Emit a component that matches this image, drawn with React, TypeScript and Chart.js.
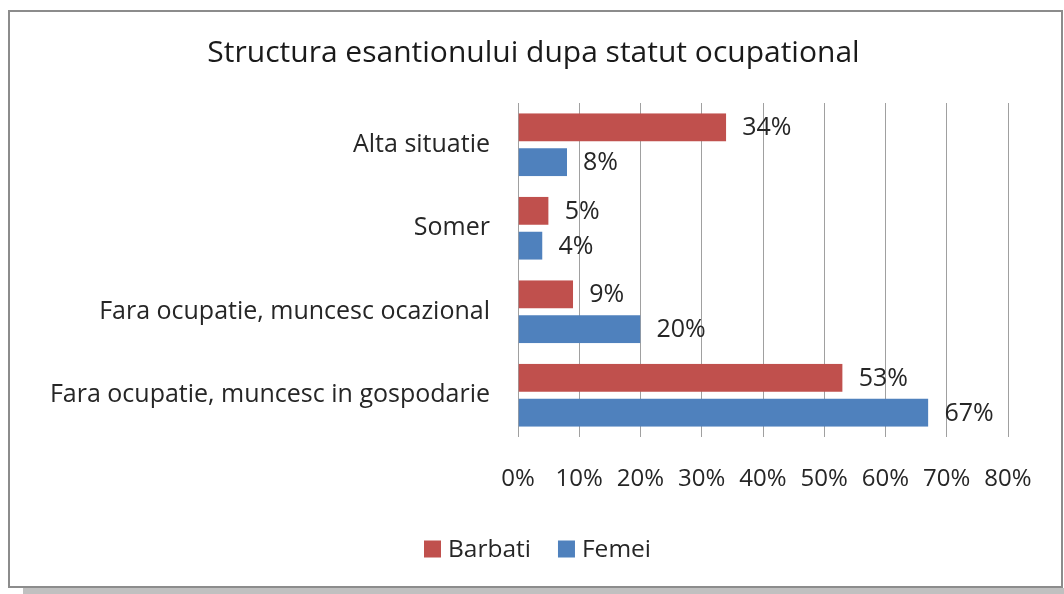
import React, { useEffect, useRef } from "react";
import { Chart, registerables } from "chart.js";

Chart.register(...registerables);

const categories = [
  "Alta situatie",
  "Somer",
  "Fara ocupatie, muncesc ocazional",
  "Fara ocupatie, muncesc in gospodarie",
];
const barbati = [34, 5, 9, 53];
const femei = [8, 4, 20, 67];
const seriesNames = ["Barbati", "Femei"];
const seriesColors = ["#C0504D", "#4F81BD"];
const xTicksMax = 80;
const chartTitle = "Structura esantionului dupa statut ocupational";

const FONT = "'Open Sans', Lato, sans-serif";
const TEXT = "#262626";

const dataLabelPlugin = {
  id: "dataLabels",
  afterDatasetsDraw(chart: any) {
    const ctx = chart.ctx;
    ctx.save();
    ctx.font = `25px ${FONT}`;
    ctx.fillStyle = TEXT;
    ctx.textAlign = "left";
    ctx.textBaseline = "middle";
    chart.data.datasets.forEach((ds: any, di: number) => {
      const meta = chart.getDatasetMeta(di);
      meta.data.forEach((bar: any, i: number) => {
        const shift = di === 0 ? -1.75 : 1.75;
        ctx.fillText(`${ds.data[i]}%`, bar.x + 16, bar.y + shift + 1);
      });
    });
    ctx.restore();
  },
};

const titleAndLegendPlugin = {
  id: "titleLegend",
  afterDraw(chart: any) {
    const ctx = chart.ctx;
    ctx.save();
    // title
    ctx.font = `30px ${FONT}`;
    ctx.fillStyle = "#1a1a1a";
    ctx.textAlign = "center";
    ctx.textBaseline = "middle";
    ctx.fillText(chartTitle, chart.width / 2 - 2, 41);
    // legend
    ctx.textAlign = "left";
    ctx.font = `24.5px ${FONT}`;
    const box = 17;
    const gapText = 7;
    const gapItem = 27;
    const widths = seriesNames.map((n) => ctx.measureText(n).width);
    const total =
      widths.reduce((a, w) => a + box + gapText + w, 0) + gapItem * (seriesNames.length - 1);
    let x = chart.width / 2 + 2 - total / 2;
    const y = chart.height - 37;
    seriesNames.forEach((n, i) => {
      ctx.fillStyle = seriesColors[i];
      ctx.fillRect(x, y - box / 2, box, box);
      ctx.fillStyle = TEXT;
      ctx.fillText(n, x + box + gapText, y + 1);
      x += box + gapText + widths[i] + gapItem;
    });
    ctx.restore();
  },
};

export default function App() {
  const ref = useRef<HTMLCanvasElement>(null);
  useEffect(() => {
    if (!ref.current) return;
    const chart = new Chart(ref.current, {
      type: "bar",
      data: {
        labels: categories,
        datasets: [
          {
            label: seriesNames[0],
            data: barbati,
            backgroundColor: seriesColors[0],
            borderColor: "rgba(0,0,0,0)",
            borderWidth: { top: 0, right: 0, bottom: 3.5, left: 0 },
            borderSkipped: false,
          },
          {
            label: seriesNames[1],
            data: femei,
            backgroundColor: seriesColors[1],
            borderColor: "rgba(0,0,0,0)",
            borderWidth: { top: 3.5, right: 0, bottom: 0, left: 0 },
            borderSkipped: false,
          },
        ],
      },
      options: {
        indexAxis: "y",
        animation: false,
        responsive: false,
        maintainAspectRatio: false,
        layout: { padding: { left: 0, right: 53, top: 91, bottom: 0 } },
        datasets: {
          bar: { categoryPercentage: 0.754, barPercentage: 1 },
        },
        plugins: {
          legend: { display: false },
          tooltip: { enabled: false },
          title: { display: false },
        },
        scales: {
          x: {
            min: 0,
            max: xTicksMax,
            ticks: {
              stepSize: 10,
              color: TEXT,
              font: { family: FONT, size: 24 },
              padding: 28,
              callback: (v: any) => `${v}%`,
            },
            grid: { color: "#a0a0a0", lineWidth: 1, drawTicks: false },
            border: { display: false },
            afterFit: (s: any) => {
              s.height = 149;
            },
          },
          y: {
            ticks: {
              color: TEXT,
              font: { family: FONT, size: 25 },
              padding: 28,
            },
            grid: { display: false, drawTicks: false },
            border: { display: false },
            afterFit: (s: any) => {
              s.width = 508;
            },
          },
        },
      },
      plugins: [dataLabelPlugin, titleAndLegendPlugin],
    });
    return () => chart.destroy();
  }, []);

  return (
    <div
      style={{
        position: "fixed",
        left: 0,
        top: 0,
        width: 1064,
        height: 594,
        overflow: "hidden",
        background: "#fff",
      }}
    >
      <div
        style={{
          position: "absolute",
          left: 23,
          top: 588,
          width: 1041,
          height: 6,
          background: "#c0c0c0",
        }}
      />
      <div
        style={{
          position: "absolute",
          left: 8,
          top: 10,
          width: 1055,
          height: 578,
          border: "2px solid #8c8c8c",
          boxSizing: "border-box",
          background: "#fff",
        }}
      >
        <canvas ref={ref} width={1051} height={574} style={{ display: "block" }} />
      </div>
    </div>
  );
}
